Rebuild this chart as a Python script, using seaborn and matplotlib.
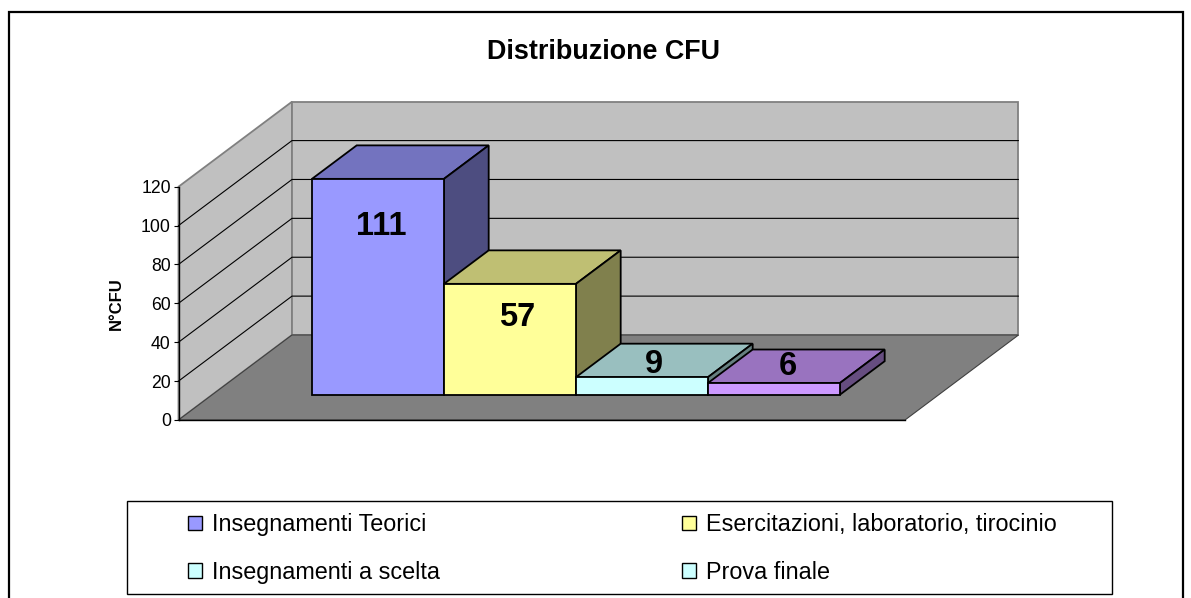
import matplotlib
matplotlib.use('Agg')
import matplotlib.pyplot as plt
import matplotlib.colors as mcolors
from matplotlib.patches import Patch, Polygon, Rectangle
import pandas as pd
import seaborn as sns

# chart data
categories = ['Insegnamenti Teorici', 'Esercitazioni, laboratorio, tirocinio', 'Insegnamenti a scelta', 'Prova finale']
values = [111, 57, 9, 6]
bar_colors = ['#9999FF', '#FFFF99', '#CCFFFF', '#CC99FF']
legend_colors = ['#9999FF', '#FFFF99', '#CCFFFF', '#CCFFFF']
y_ticks = [0, 20, 40, 60, 80, 100, 120]

W, H = 1191, 598
sns.set_style('white')
plt.rcParams['font.family'] = ['Liberation Sans', 'DejaVu Sans']

fig = plt.figure(figsize=(W / 100, H / 100), dpi=100)
fig.patch.set_facecolor('white')
# front plane of the fake 3D box
ax = fig.add_axes([178.5 / W, 1 - 420 / H, (905 - 178.5) / W, (420 - 186.7) / H])
ax.patch.set_visible(False)

df = pd.DataFrame({'cat': categories, 'val': values})
sns.barplot(data=df, x='cat', y='val', hue='cat', palette=bar_colors, width=1, saturation=1,
            legend=False, edgecolor='black', linewidth=1.3, ax=ax)

ax.set_xlim(-1.255, 4.249)
ax.set_ylim(0, 120)
x0, x1 = ax.get_xlim()

# depth of the box and of the bars, in data units
depth_x, depth_y = 113.5 / 132, 85 / (233.3 / 120)
start = 0.298
bar_depth = 0.394
off_x, off_y = depth_x * start, depth_y * start
dx, dy = depth_x * bar_depth, depth_y * bar_depth

# walls and floor
wall = '#C0C0C0'
ax.add_patch(Polygon([(x0, 0), (x0 + depth_x, depth_y), (x0 + depth_x, 120 + depth_y), (x0, 120)],
                     fc=wall, ec='#808080', lw=1.3, clip_on=False, zorder=0))
ax.add_patch(Polygon([(x0 + depth_x, depth_y), (x1 + depth_x, depth_y), (x1 + depth_x, 120 + depth_y), (x0 + depth_x, 120 + depth_y)],
                     fc=wall, ec='#808080', lw=1.3, clip_on=False, zorder=0))
ax.add_patch(Polygon([(x0, 0), (x1, 0), (x1 + depth_x, depth_y), (x0 + depth_x, depth_y)],
                     fc='#808080', ec='#404040', lw=0.8, clip_on=False, zorder=0.5))
for t in y_ticks[1:-1]:
    ax.plot([x0, x0 + depth_x, x1 + depth_x], [t, t + depth_y, t + depth_y],
            color='black', lw=0.8, clip_on=False, zorder=1)

# bars: move the front faces back, then add top and side faces
for i, bar in enumerate(ax.patches[:len(values)]):
    bar.set_x(bar.get_x() + off_x)
    bar.set_y(off_y)
    bar.set_clip_on(False)
    bar.set_zorder(3.5 + i)
    left, right = bar.get_x(), bar.get_x() + bar.get_width()
    top = off_y + bar.get_height()
    base = mcolors.to_rgb(bar_colors[i])
    top_color = tuple(c * 0.75 for c in base)
    side_color = tuple(c * 0.5 for c in base)
    ax.add_patch(Polygon([(left, top), (right, top), (right + dx, top + dy), (left + dx, top + dy)],
                         fc=top_color, ec='black', lw=1.3, clip_on=False, zorder=3 + i))
    ax.add_patch(Polygon([(right, off_y), (right + dx, off_y + dy), (right + dx, top + dy), (right, top)],
                         fc=side_color, ec='black', lw=1.3, clip_on=False, zorder=3 + i))

# value labels, nudged in pixels from the top centre of each bar front
label_nudge = [(3, -48), (7, -34), (12, 13), (14, 17)]
for bar, v, (nx, ny) in zip(ax.patches[:len(values)], values, label_nudge):
    ax.annotate(str(v), (bar.get_x() + bar.get_width() / 2, off_y + v),
                xytext=(nx * 0.72, ny * 0.72), textcoords='offset points',
                ha='center', va='center', fontsize=23.5, fontweight='bold', color='black',
                zorder=20, annotation_clip=False)

# axes
sns.despine(ax=ax, top=True, right=True)
for s in ['left', 'bottom']:
    ax.spines[s].set_color('black')
    ax.spines[s].set_linewidth(1)
    ax.spines[s].set_zorder(2)
ax.set_xticks([])
ax.set_xlabel('')
ax.set_yticks(y_ticks)
ax.tick_params(axis='y', left=True, length=3.5, width=0.8, color='black', labelsize=12.7, pad=2, labelcolor='black')
ax.set_ylabel('N°CFU', fontsize=12, fontweight='bold', labelpad=12, color='black')

fig.suptitle('Distribuzione CFU', x=603.5 / W, y=1 - 52 / H, fontsize=19.4, fontweight='bold',
             va='center', ha='center', color='black')

# outer frame and legend box
fig.add_artist(Rectangle((9 / W, -0.02), (1183 - 9) / W, 1.02 - 12 / H, transform=fig.transFigure,
                         fc='none', ec='black', lw=1.6))
fig.add_artist(Rectangle((127.5 / W, 1 - 594 / H), (1111.5 - 127.5) / W, (594 - 500.5) / H, transform=fig.transFigure,
                         fc='white', ec='black', lw=1))
handles = [Patch(fc=c, ec='black', lw=1) for c in legend_colors]
# matplotlib fills the legend column by column
col_order = [0, 2, 1, 3]
leg = fig.legend([handles[i] for i in col_order], [categories[i] for i in col_order], ncols=2, mode='expand',
                 bbox_to_anchor=(187.7 / W, 1 - 592 / H, (1057 - 187.7) / W, (592 - 505) / H), loc='center',
                 frameon=False, fontsize=16.8, borderpad=0, borderaxespad=0,
                 handlelength=0.6, handleheight=0.6, handletextpad=0.42, labelspacing=1.05)
for t in leg.get_texts():
    t.set_color('black')

fig.savefig('out.png', dpi=100)
